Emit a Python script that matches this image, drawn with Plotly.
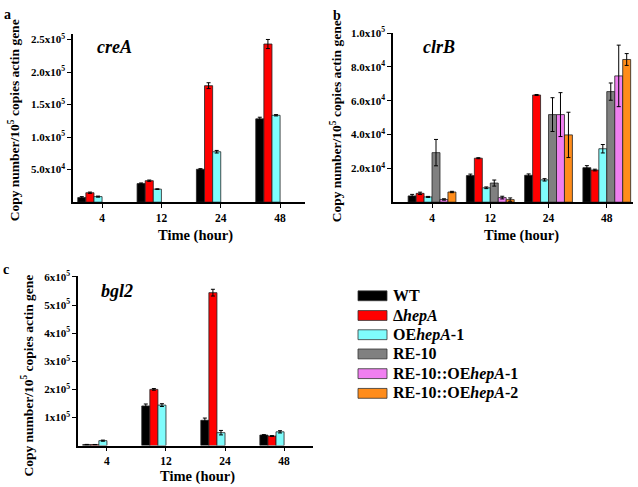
import plotly.graph_objects as go

W, H = 638, 487

hours = ["4", "12", "24", "48"]
strain_names = ["WT", "\u0394<i>hepA</i>", "OE<i>hepA</i>-1", "RE-10",
                "RE-10::OE<i>hepA</i>-1", "RE-10::OE<i>hepA</i>-2"]
strain_colors = ["#000000", "#ff0000", "#7ffcfc", "#808080", "#f07ff0", "#ff8c1a"]

# creA
creA_wt = [7000, 28500, 50500, 128000]
creA_wt_err = [1500, 1000, 1000, 2500]
creA_dhepA = [14500, 33000, 179000, 243000]
creA_dhepA_err = [1000, 1000, 4500, 7000]
creA_oe1 = [8500, 20000, 77500, 133500]
creA_oe1_err = [800, 500, 2000, 1000]

# clrB
clrB_wt = [3700, 15700, 15900, 20400]
clrB_wt_err = [900, 900, 800, 1200]
clrB_dhepA = [5200, 26000, 63400, 19000]
clrB_dhepA_err = [700, 300, 300, 500]
clrB_oe1 = [3100, 8500, 13200, 31600]
clrB_oe1_err = [300, 500, 700, 2500]
clrB_re10 = [29300, 11300, 51800, 65400]
clrB_re10_err = [7800, 1800, 10000, 5100]
clrB_re10oe1 = [1600, 2700, 51800, 74700]
clrB_re10oe1_err = [400, 800, 13000, 18200]
clrB_re10oe2 = [6000, 1500, 39800, 84400]
clrB_re10oe2_err = [400, 1000, 13400, 3500]

# bgl2
bgl2_wt = [3500, 141000, 90000, 37500]
bgl2_wt_err = [800, 7000, 8000, 1500]
bgl2_dhepA = [3500, 200000, 544000, 34000]
bgl2_dhepA_err = [500, 3000, 12000, 1500]
bgl2_oe1 = [17600, 144000, 46000, 49000]
bgl2_oe1_err = [2000, 5000, 8000, 4000]

none4 = [None, None, None, None]

panels = [
    ("x", "y", [creA_wt, creA_dhepA, creA_oe1, none4, none4, none4],
     [creA_wt_err, creA_dhepA_err, creA_oe1_err, none4, none4, none4]),
    ("x2", "y2", [clrB_wt, clrB_dhepA, clrB_oe1, clrB_re10, clrB_re10oe1, clrB_re10oe2],
     [clrB_wt_err, clrB_dhepA_err, clrB_oe1_err, clrB_re10_err, clrB_re10oe1_err, clrB_re10oe2_err]),
    ("x3", "y3", [bgl2_wt, bgl2_dhepA, bgl2_oe1, none4, none4, none4],
     [bgl2_wt_err, bgl2_dhepA_err, bgl2_oe1_err, none4, none4, none4]),
]

fig = go.Figure()
for xa, ya, series, errs in panels:
    for i in range(6):
        fig.add_trace(go.Bar(
            x=hours, y=series[i], xaxis=xa, yaxis=ya,
            name=strain_names[i], showlegend=False,
            marker=dict(color=strain_colors[i], line=dict(color="#222222", width=0.8)),
            error_y=dict(type="data", array=errs[i], color="#000000", thickness=1, width=2),
        ))

def px(x):
    return x / W

def py(y):
    return 1 - y / H

FONT = "Times New Roman, Liberation Serif, serif"

def yax(domain_top, domain_bot, rng, vals, texts):
    return dict(domain=[py(domain_bot), py(domain_top)], range=rng, tickvals=vals, ticktext=texts,
                showline=True, linecolor="#000000", linewidth=1.5, ticks="outside", ticklen=4,
                tickcolor="#000000", showgrid=False, zeroline=False,
                tickfont=dict(family=FONT, size=11, color="#000000", weight="bold"))

def xax(x0, x1, rng, anchor):
    return dict(domain=[px(x0), px(x1)], range=rng, type="category", anchor=anchor,
                showline=True, linecolor="#000000", linewidth=1.5, ticks="outside", ticklen=4,
                tickcolor="#000000", showgrid=False, zeroline=False,
                tickfont=dict(family=FONT, size=11.5, color="#000000", weight="bold"))

a_vals = [50000, 100000, 150000, 200000, 250000]
a_text = ["5.0x10<sup>4</sup>", "1.0x10<sup>5</sup>", "1.5x10<sup>5</sup>", "2.0x10<sup>5</sup>", "2.5x10<sup>5</sup>"]
b_vals = [20000, 40000, 60000, 80000, 100000]
b_text = ["2.0x10<sup>4</sup>", "4.0x10<sup>4</sup>", "6.0x10<sup>4</sup>", "8.0x10<sup>4</sup>", "1.0x10<sup>5</sup>"]
c_vals = [100000, 200000, 300000, 400000, 500000, 600000]
c_text = ["1x10<sup>5</sup>", "2x10<sup>5</sup>", "3x10<sup>5</sup>", "4x10<sup>5</sup>", "5x10<sup>5</sup>", "6x10<sup>5</sup>"]

fig.update_layout(
    width=W, height=H, autosize=False,
    margin=dict(l=0, r=0, t=0, b=0),
    paper_bgcolor="#ffffff", plot_bgcolor="#ffffff",
    barmode="group", bargap=0.18, bargroupgap=0,
    xaxis=xax(73, 305, [-0.49, 3.42], "y"),
    yaxis=yax(27, 198, [0, 259000], a_vals, a_text) | dict(anchor="x"),
    xaxis2=xax(393, 633, [-0.67, 3.45], "y2"),
    yaxis2=yax(26, 198, [0, 100300], b_vals, b_text) | dict(anchor="x2"),
    xaxis3=xax(78, 313, [-0.49, 3.49], "y3"),
    yaxis3=yax(273, 445, [0, 603000], c_vals, c_text) | dict(anchor="x3"),
)

ann = []
def text(x, y, s, size, angle=0, xanchor="center"):
    ann.append(dict(x=px(x), y=py(y), xref="paper", yref="paper", text=s, showarrow=False,
                    textangle=angle, xanchor=xanchor, yanchor="middle",
                    font=dict(family=FONT, size=size, color="#000000")))

ytitle = "<b>Copy number/10<sup>5</sup> copies actin gene</b>"
text(14, 115, ytitle, 13.5, -90)
text(336, 116, ytitle, 13.5, -90)
text(28, 374, ytitle, 13.5, -90)
text(195, 232, "<b>Time (hour)</b>", 14.5)
text(521, 232, "<b>Time (hour)</b>", 14.5)
text(197, 476, "<b>Time (hour)</b>", 14.5)
text(95, 41, "<b><i>creA</i></b>", 18, xanchor="left")
text(421, 41, "<b><i>clrB</i></b>", 18, xanchor="left")
text(99, 288, "<b><i>bgl2</i></b>", 18, xanchor="left")
text(7, 8, "<b>a</b>", 14)
text(337, 9, "<b>b</b>", 14)
text(6, 266, "<b>c</b>", 14)

shapes = []
row_y = [293, 313, 332.5, 352, 372, 392]
for i in range(6):
    shapes.append(dict(type="rect", xref="paper", yref="paper",
                       x0=px(358), x1=px(387), y0=py(row_y[i] + 5), y1=py(row_y[i] - 5),
                       fillcolor=strain_colors[i], line=dict(color="#333333", width=0.8)))
    text(391, row_y[i], "<b>" + strain_names[i] + "</b>", 16, xanchor="left")

fig.update_layout(annotations=ann, shapes=shapes)
fig.write_html("out.html", config={"displayModeBar": False},
               post_script="document.body.style.margin='0';document.body.style.overflow='hidden';")
